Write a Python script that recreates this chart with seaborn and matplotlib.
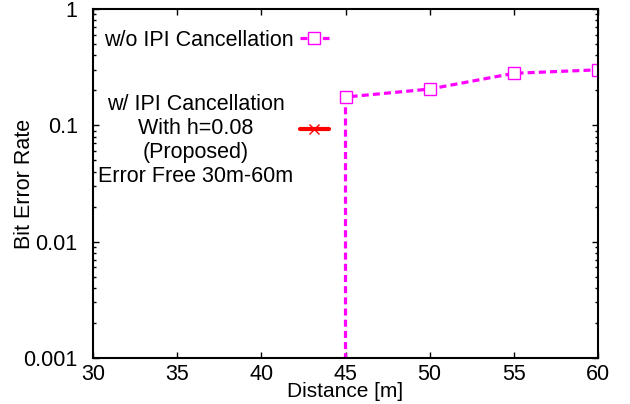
import matplotlib
matplotlib.use("Agg")
import matplotlib.pyplot as plt
import seaborn as sns
import pandas as pd
from matplotlib.ticker import FixedLocator, FixedFormatter, LogLocator, NullFormatter
from matplotlib.legend_handler import HandlerLine2D
from matplotlib.transforms import Affine2D

# ---- data ----
dist_wo = [45, 45, 50, 55, 60]
ber_wo = [1e-6, 0.175, 0.205, 0.28, 0.30]
dist_w = [30, 35, 40, 45, 50, 55, 60]
ber_w = [0, 0, 0, 0, 0, 0, 0]  # error free
label_wo = "w/o IPI Cancellation"
label_w = "w/ IPI Cancellation\nWith h=0.08\n(Proposed)\nError Free 30m-60m"
xticks = [30, 35, 40, 45, 50, 55, 60]
yticks = [0.001, 0.01, 0.1, 1]
ytick_labels = ["0.001", "0.01", "0.1", "1"]

sns.set_theme(style="ticks")
plt.rcParams["font.family"] = ["Liberation Sans", "DejaVu Sans"]
plt.rcParams["font.size"] = 15.5
plt.rcParams["text.color"] = "black"
plt.rcParams["axes.labelcolor"] = "black"


class ShiftedLineHandler(HandlerLine2D):
    def __init__(self, dy=0.0, **kw):
        super().__init__(**kw)
        self.dy = dy

    def create_artists(self, legend, orig_handle, xdescent, ydescent,
                       width, height, fontsize, trans):
        trans = Affine2D().translate(0, self.dy) + trans
        return super().create_artists(legend, orig_handle, xdescent, ydescent,
                                      width, height, fontsize, trans)


fig = plt.figure(figsize=(6.3, 4.04), dpi=100)
ax = fig.add_axes([93/630, 1-358/404, (598-93)/630, (358-9)/404])

df_wo = pd.DataFrame({"d": dist_wo, "b": ber_wo})
sns.lineplot(data=df_wo, x="d", y="b", estimator=None, sort=False, ax=ax,
             color="#ff00ff", lw=2.3, dashes=False, linestyle=(0, (2.2, 1.3)),
             marker="s", markersize=8, markerfacecolor="white",
             markeredgecolor="#ff00ff", markeredgewidth=1.0, label=label_wo)

df_w = pd.DataFrame({"d": dist_w, "b": [v if v > 0 else float("nan") for v in ber_w]})
line_w, = ax.plot(df_w["d"], df_w["b"], color="#ff0000", lw=3.0, marker="x",
                  markersize=7.5, markeredgewidth=1.0, label=label_w)

ax.set_yscale("log")
ax.set_xlim(30, 60)
ax.set_ylim(0.001, 1)
ax.xaxis.set_major_locator(FixedLocator(xticks))
ax.yaxis.set_major_locator(FixedLocator(yticks))
ax.yaxis.set_major_formatter(FixedFormatter(ytick_labels))
ax.yaxis.set_minor_locator(LogLocator(base=10, subs=range(2, 10)))
ax.yaxis.set_minor_formatter(NullFormatter())
ax.tick_params(which="both", direction="in", top=True, right=True,
               labelsize=15.5, colors="black", width=1.0)
ax.tick_params(which="major", length=4)
ax.tick_params(which="minor", length=2)
ax.tick_params(axis="y", pad=11)
ax.tick_params(axis="x", pad=4)
for s in ax.spines.values():
    s.set_linewidth(1.5)
    s.set_color("black")

ax.set_xlabel("Distance [m]", fontsize=15, labelpad=-2)
ax.set_ylabel("Bit Error Rate", fontsize=15.5)
ax.yaxis.set_label_coords(-0.115, 0.5)

leg = ax.legend(loc="upper right", bbox_to_anchor=(0.467, 0.94),
                markerfirst=False, frameon=False, borderpad=0, borderaxespad=0,
                handlelength=1.35, handletextpad=0.3, labelspacing=2.0,
                fontsize=15.5,
                handler_map={line_w: ShiftedLineHandler(dy=8.6)})
for t in leg.get_texts():
    t.set_multialignment("center")
    t.set_linespacing(1.18)
    t.set_color("black")

fig.savefig("out.png", dpi=100)
